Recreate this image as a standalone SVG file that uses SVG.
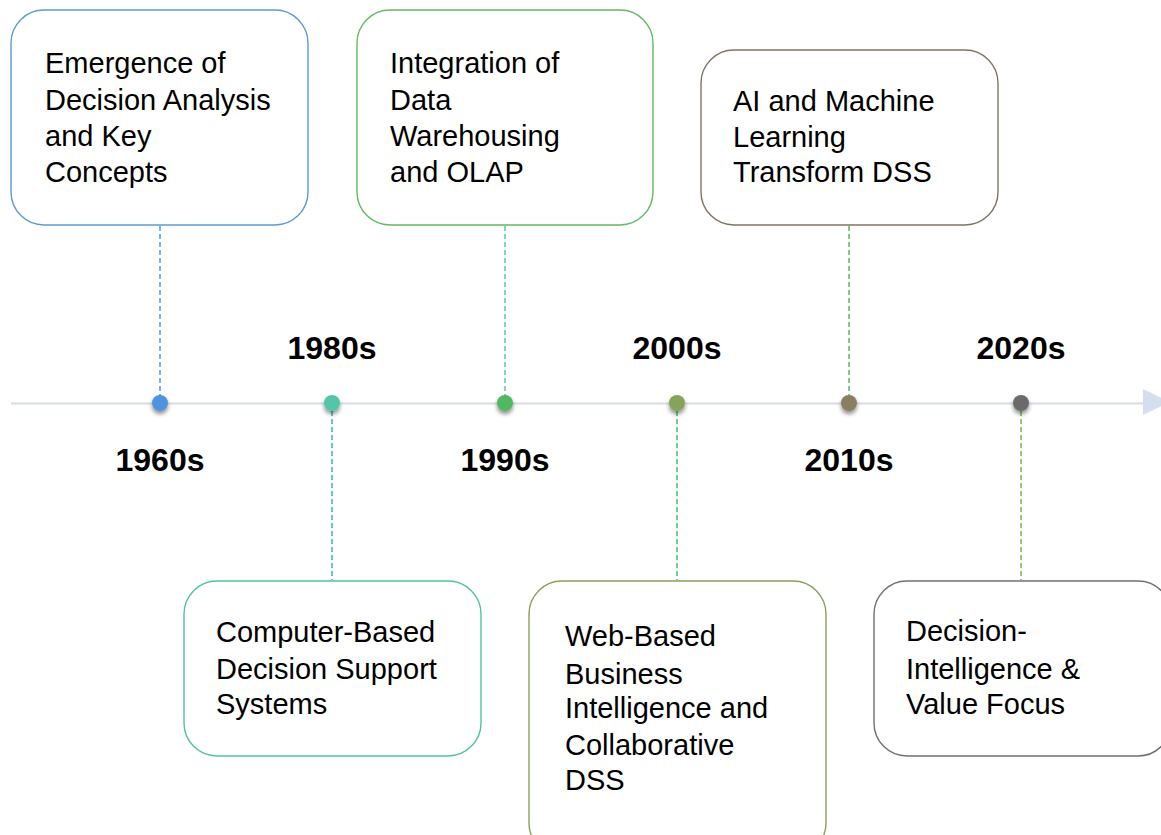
<svg xmlns="http://www.w3.org/2000/svg" width="1161" height="835" viewBox="0 0 1161 835">
<style>
.box{fill:#fff;stroke-width:1.4}
.t{font-family:"Liberation Sans",Arial,sans-serif;font-size:29px;fill:#000}
.yr{font-family:"Liberation Sans",Arial,sans-serif;font-size:32px;font-weight:bold;fill:#000;text-anchor:middle}
.c{fill:none;stroke-width:1.6;stroke-dasharray:5 3}
</style>
<defs>
<filter id="sh" x="-100%" y="-100%" width="300%" height="300%">
<feDropShadow dx="0" dy="3" stdDeviation="2.2" flood-color="#000" flood-opacity="0.45"/>
</filter>
</defs>
<rect width="1161" height="835" fill="#fff"/>
<g id="axis">
<line x1="11" y1="403.5" x2="1146" y2="403.5" stroke="#D6DCEA" stroke-width="2"/>
<polygon points="1143,389 1170,402 1143,415" fill="#D3DFEF"/>
</g>
<g id="connectors">
<line class="c" x1="160" y1="226" x2="160" y2="396" stroke="#5AA2DE"/>
<line class="c" x1="332" y1="411" x2="332" y2="580" stroke="#3CBAC6"/>
<line class="c" x1="505" y1="226" x2="505" y2="396" stroke="#62D0B0"/>
<line class="c" x1="677" y1="411" x2="677" y2="580" stroke="#4EC474"/>
<line class="c" x1="849" y1="226" x2="849" y2="396" stroke="#60C062"/>
<line class="c" x1="1021" y1="411" x2="1021" y2="580" stroke="#7CC058"/>
</g>
<g id="n1960">
<circle cx="160" cy="403" r="8" fill="#4E94DA" filter="url(#sh)"/>
<text class="yr" x="160" y="471">1960s</text>
<rect class="box" x="11" y="10" width="297" height="215" rx="33" stroke="#5B9BD5"/>
<text class="t" x="45" y="73">Emergence of</text>
<text class="t" x="45" y="110">Decision Analysis</text>
<text class="t" x="45" y="146">and Key</text>
<text class="t" x="45" y="182">Concepts</text>
</g>
<g id="n1980">
<circle cx="332" cy="403" r="8" fill="#52C5A8" filter="url(#sh)"/>
<text class="yr" x="332" y="359">1980s</text>
<rect class="box" x="184" y="581" width="297" height="175" rx="33" stroke="#4FC3A1"/>
<text class="t" x="216" y="642">Computer-Based</text>
<text class="t" x="216" y="679">Decision Support</text>
<text class="t" x="216" y="714">Systems</text>
</g>
<g id="n1990">
<circle cx="505" cy="403" r="8" fill="#4FB860" filter="url(#sh)"/>
<text class="yr" x="505" y="471">1990s</text>
<rect class="box" x="357" y="10" width="296" height="215" rx="33" stroke="#62BA62"/>
<text class="t" x="390" y="73">Integration of</text>
<text class="t" x="390" y="110">Data</text>
<text class="t" x="390" y="146">Warehousing</text>
<text class="t" x="390" y="182">and OLAP</text>
</g>
<g id="n2000">
<circle cx="677" cy="403" r="8" fill="#86A35A" filter="url(#sh)"/>
<text class="yr" x="677" y="359">2000s</text>
<rect class="box" x="529" y="581" width="297" height="275" rx="33" stroke="#8AA05A"/>
<text class="t" x="565" y="646">Web-Based</text>
<text class="t" x="565" y="684">Business</text>
<text class="t" x="565" y="718">Intelligence and</text>
<text class="t" x="565" y="755">Collaborative</text>
<text class="t" x="565" y="790">DSS</text>
</g>
<g id="n2010">
<circle cx="849" cy="403" r="8" fill="#8A7E62" filter="url(#sh)"/>
<text class="yr" x="849" y="471">2010s</text>
<rect class="box" x="701" y="50" width="297" height="175" rx="33" stroke="#7F7462"/>
<text class="t" x="733" y="111">AI and Machine</text>
<text class="t" x="733" y="147">Learning</text>
<text class="t" x="733" y="182">Transform DSS</text>
</g>
<g id="n2020">
<circle cx="1021" cy="403" r="8" fill="#6B6B6B" filter="url(#sh)"/>
<text class="yr" x="1021" y="359">2020s</text>
<rect class="box" x="874" y="581" width="297" height="175" rx="33" stroke="#707070"/>
<text class="t" x="906" y="641">Decision-</text>
<text class="t" x="906" y="679">Intelligence &amp;</text>
<text class="t" x="906" y="714">Value Focus</text>
</g>
</svg>
